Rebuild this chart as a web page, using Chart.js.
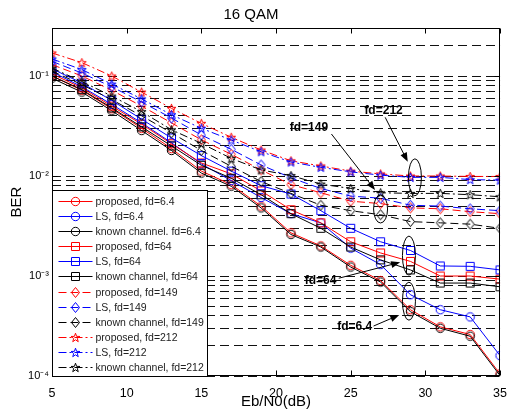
<!DOCTYPE html>
<html>
<head>
<meta charset="utf-8">
<script src="https://cdn.jsdelivr.net/npm/chart.js@4/dist/chart.umd.min.js"></script>
<style>
  html, body { margin: 0; padding: 0; background: #fff; }
</style>
</head>
<body>
<canvas id="ber" width="509" height="411"></canvas>
<script>
// Eb/N0 sample points (dB)
const snr = [5, 7, 9, 11, 13, 15, 17, 19, 21, 23, 25, 27, 29, 31, 33, 35];

// BER
const propFd6 = [0.100, 0.072, 0.047, 0.030, 0.0188, 0.0112, 0.0082, 0.0050, 0.0027, 0.0020, 0.00128, 0.00090, 0.00046, 0.00031, 0.00026, 0.000105];
const lsFd6 = [0.110, 0.078, 0.052, 0.034, 0.0215, 0.0132, 0.0090, 0.0061, 0.0042, 0.0034, 0.0019, 0.0013, 0.00065, 0.00046, 0.00039, 0.00016];
const knownFd6 = [0.095, 0.069, 0.045, 0.0285, 0.0180, 0.0107, 0.0079, 0.0048, 0.0026, 0.00195, 0.00123, 0.00087, 0.00044, 0.00030, 0.00025, 0.000101];
const propFd64 = [0.105, 0.076, 0.050, 0.033, 0.021, 0.0135, 0.0105, 0.0071, 0.0046, 0.0034, 0.0022, 0.0017, 0.0014, 0.0010, 0.0010, 0.00093];
const lsFd64 = [0.118, 0.085, 0.057, 0.037, 0.024, 0.016, 0.0112, 0.0080, 0.0066, 0.0045, 0.0030, 0.0022, 0.0018, 0.00126, 0.00125, 0.00115];
const knownFd64 = [0.100, 0.073, 0.048, 0.031, 0.020, 0.0128, 0.0095, 0.0065, 0.0042, 0.0030, 0.00195, 0.00145, 0.00115, 0.00085, 0.00085, 0.00078];
const propFd149 = [0.130, 0.100, 0.072, 0.050, 0.034, 0.023, 0.0165, 0.0115, 0.0082, 0.0068, 0.0056, 0.0053, 0.0048, 0.0047, 0.0044, 0.0042];
const lsFd149 = [0.140, 0.107, 0.078, 0.055, 0.038, 0.0257, 0.0185, 0.0129, 0.0096, 0.0075, 0.0063, 0.0060, 0.0051, 0.0050, 0.0047, 0.0045];
const knownFd149 = [0.112, 0.082, 0.058, 0.040, 0.027, 0.018, 0.0125, 0.0088, 0.0067, 0.0051, 0.0045, 0.0041, 0.0035, 0.0034, 0.0033, 0.0030];
const propFd212 = [0.170, 0.136, 0.100, 0.069, 0.0475, 0.0336, 0.0244, 0.0182, 0.0142, 0.0126, 0.0112, 0.0105, 0.0100, 0.0100, 0.0099, 0.0099];
const lsFd212 = [0.148, 0.116, 0.083, 0.059, 0.041, 0.030, 0.0229, 0.0175, 0.0138, 0.0122, 0.0110, 0.0102, 0.0097, 0.0097, 0.0092, 0.0091];
const knownFd212 = [0.120, 0.088, 0.063, 0.044, 0.029, 0.0212, 0.0150, 0.0115, 0.0101, 0.0083, 0.0075, 0.0068, 0.0067, 0.0067, 0.0065, 0.0062];

// axis ticks
const xTickValues = [5, 10, 15, 20, 25, 30, 35];
const yDecades = [1e-4, 1e-3, 1e-2, 1e-1];
const yDecadeLabels = ['10\u207B\u2074', '10\u207B\u00B3', '10\u207B\u00B2', '10\u207B\u00B9'];

const FONT = '"Liberation Sans", Arial, Helvetica, sans-serif';
Chart.defaults.font.family = FONT;
Chart.defaults.color = '#000';

// dashed grid at every 1..9 x decade, up to the top of the axis
const yGrid = [];
yDecades.forEach((d) => { for (let m = 1; m <= 9; m++) if (m * d <= 0.3 + 1e-9) yGrid.push(m * d); });

function makeMarker(shape, color) {
  const c = document.createElement('canvas');
  c.width = 13; c.height = 13;
  const g = c.getContext('2d');
  const m = 6.5;
  g.strokeStyle = color;
  g.lineWidth = 1;
  g.beginPath();
  if (shape === 'circle') {
    g.arc(m, m, 4.2, 0, Math.PI * 2);
  } else if (shape === 'square') {
    g.rect(m - 4, m - 4, 8, 8);
  } else if (shape === 'diamond') {
    g.moveTo(m, m - 5); g.lineTo(m + 4, m); g.lineTo(m, m + 5); g.lineTo(m - 4, m); g.closePath();
  } else {
    for (let i = 0; i < 10; i++) {
      const r = i % 2 ? 1.9 : 4.7;
      const a = -Math.PI / 2 + i * Math.PI / 5;
      const px = m + r * Math.cos(a), py = m + 0.4 + r * Math.sin(a);
      if (i) g.lineTo(px, py); else g.moveTo(px, py);
    }
    g.closePath();
  }
  g.stroke();
  return c;
}

const RED = '#ff0000', BLUE = '#0000ff', BLACK = '#000000';
const series = [
  ['proposed, fd=6.4', propFd6, RED, 'circle', []],
  ['LS, fd=6.4', lsFd6, BLUE, 'circle', []],
  ['known channel. fd=6.4', knownFd6, BLACK, 'circle', []],
  ['proposed, fd=64', propFd64, RED, 'square', []],
  ['LS, fd=64', lsFd64, BLUE, 'square', []],
  ['known channel, fd=64', knownFd64, BLACK, 'square', []],
  ['proposed, fd=149', propFd149, RED, 'diamond', [8, 4]],
  ['LS, fd=149', lsFd149, BLUE, 'diamond', [8, 4]],
  ['known channel, fd=149', knownFd149, BLACK, 'diamond', [8, 4]],
  ['proposed, fd=212', propFd212, RED, 'star', [8, 3, 2, 3]],
  ['LS, fd=212', lsFd212, BLUE, 'star', [8, 3, 2, 3]],
  ['known channel, fd=212', knownFd212, BLACK, 'star', [8, 3, 2, 3]]
];

const datasets = series.map(([label, ys, color, shape, dash], i) => ({
  label,
  data: snr.map((x, k) => ({ x, y: ys[k] })),
  borderColor: color,
  backgroundColor: color,
  borderWidth: 1,
  borderDash: dash,
  pointStyle: makeMarker(shape, color),
  pointRadius: 5,
  tension: 0,
  fill: false,
  order: series.length - i
}));

// callouts: text, arrow (from -> to) and ellipse, all in data units
const notes = [
  { text: 'fd=212', at: [27.2, 0.045], from: [27.31, 0.0386], to: [28.82, 0.0139], ell: [29.3, 0.0097], rx: 6.5, ry: 18.5 },
  { text: 'fd=149', at: [22.2, 0.0307], from: [23.71, 0.0263], to: [26.63, 0.00724], ell: [27.0, 0.00468], rx: 7, ry: 14 },
  { text: 'fd=64', at: [22.98, 0.00089], from: [24.2, 0.00095], to: [28.31, 0.00137], ell: [28.9, 0.0016], rx: 6.5, ry: 19.5 },
  { text: 'fd=6.4', at: [25.27, 0.00031], from: [26.53, 0.000316], to: [28.25, 0.000407], ell: [28.9, 0.00056], rx: 6.5, ry: 19 }
];

const frame = {
  id: 'frame',
  afterDatasetsDraw(chart) {
    const { ctx, chartArea: a, scales: { x, y } } = chart;
    const L = Math.round(a.left) + 0.5, R = Math.round(a.right) - 0.5;
    const T = Math.round(a.top) + 0.5, B = Math.round(a.bottom) - 0.5;
    ctx.save();
    ctx.strokeStyle = '#000';
    ctx.lineWidth = 1;
    ctx.setLineDash([]);
    ctx.strokeRect(L, T, R - L, B - T);
    ctx.beginPath();
    xTickValues.forEach((v) => {
      const px = Math.round(x.getPixelForValue(v)) + 0.5;
      ctx.moveTo(px, B); ctx.lineTo(px, B - 5);
      ctx.moveTo(px, T); ctx.lineTo(px, T + 5);
    });
    yDecades.forEach((v) => {
      const py = Math.round(y.getPixelForValue(v)) + 0.5;
      ctx.moveTo(L, py); ctx.lineTo(L + 5, py);
      ctx.moveTo(R, py); ctx.lineTo(R - 5, py);
    });
    ctx.stroke();
    ctx.restore();
  }
};

const callouts = {
  id: 'callouts',
  afterDatasetsDraw(chart) {
    const { ctx, scales: { x, y } } = chart;
    const P = (p) => [x.getPixelForValue(p[0]), y.getPixelForValue(p[1])];
    ctx.save();
    ctx.strokeStyle = '#000';
    ctx.fillStyle = '#000';
    ctx.lineWidth = 1;
    ctx.setLineDash([]);
    notes.forEach((n) => {
      const [ex, ey] = P(n.ell);
      ctx.beginPath();
      ctx.ellipse(ex, ey, n.rx, n.ry, 0, 0, Math.PI * 2);
      ctx.stroke();
      const [x0, y0] = P(n.from), [x1, y1] = P(n.to);
      const ang = Math.atan2(y1 - y0, x1 - x0);
      ctx.beginPath();
      ctx.moveTo(x0, y0);
      ctx.lineTo(x1 - 6 * Math.cos(ang), y1 - 6 * Math.sin(ang));
      ctx.stroke();
      ctx.beginPath();
      ctx.moveTo(x1, y1);
      ctx.lineTo(x1 - 9 * Math.cos(ang) + 3.5 * Math.sin(ang), y1 - 9 * Math.sin(ang) - 3.5 * Math.cos(ang));
      ctx.lineTo(x1 - 9 * Math.cos(ang) - 3.5 * Math.sin(ang), y1 - 9 * Math.sin(ang) + 3.5 * Math.cos(ang));
      ctx.closePath();
      ctx.fill();
      const [tx, ty] = P(n.at);
      ctx.font = 'bold 12px ' + FONT;
      ctx.textAlign = 'center';
      ctx.textBaseline = 'middle';
      ctx.fillText(n.text, tx, ty);
    });
    ctx.restore();
  }
};

const legendBox = {
  id: 'legendBox',
  afterDatasetsDraw(chart) {
    const { ctx, chartArea: a } = chart;
    const rowH = 15.15, w = 155, h = 186;
    const left = Math.round(a.left) + 0.5, top = Math.round(a.bottom) - h + 0.5;
    ctx.save();
    ctx.setLineDash([]);
    ctx.fillStyle = '#fff';
    ctx.fillRect(left, top, w, h);
    ctx.strokeStyle = '#000';
    ctx.lineWidth = 1;
    ctx.strokeRect(left, top, w, h);
    ctx.font = '10.5px ' + FONT;
    ctx.textBaseline = 'middle';
    ctx.textAlign = 'left';
    chart.data.datasets.forEach((ds, i) => {
      const yy = Math.round(top + 10.2 + i * rowH) + 0.5;
      ctx.strokeStyle = ds.borderColor;
      ctx.setLineDash(ds.borderDash);
      ctx.beginPath();
      ctx.moveTo(left + 6, yy);
      ctx.lineTo(left + 40, yy);
      ctx.stroke();
      ctx.setLineDash([]);
      const img = ds.pointStyle;
      ctx.drawImage(img, left + 23 - img.width / 2, yy - img.height / 2);
      ctx.fillStyle = '#222';
      ctx.fillText(ds.label, left + 43, yy + 0.5);
    });
    ctx.restore();
  }
};

new Chart(document.getElementById('ber'), {
  type: 'line',
  data: { datasets },
  plugins: [frame, callouts, legendBox],
  options: {
    responsive: false,
    animation: false,
    devicePixelRatio: 1,
    layout: { padding: { left: 0, right: 7, top: 0, bottom: 0 } },
    plugins: {
      legend: { display: false },
      tooltip: { enabled: false },
      title: {
        display: true,
        text: '16 QAM',
        color: '#000',
        font: { size: 15, weight: 'normal' },
        padding: { top: 6, bottom: 4.3 }
      }
    },
    scales: {
      x: {
        type: 'linear',
        min: 5,
        max: 35,
        afterBuildTicks: (s) => { s.ticks = xTickValues.map((v) => ({ value: v })); },
        afterFit: (s) => { s.height = 35; },
        grid: { display: false },
        border: { display: false },
        ticks: { color: '#000', font: { size: 12.5 }, padding: 2, maxRotation: 0, autoSkip: false },
        title: { display: true, text: 'Eb/N0(dB)', color: '#000', font: { size: 15 }, padding: { top: 0, bottom: 0 } }
      },
      y: {
        type: 'logarithmic',
        min: 1e-4,
        max: 0.3,
        afterBuildTicks: (s) => { s.ticks = yGrid.map((v) => ({ value: v })); },
        afterFit: (s) => { s.width = 52; },
        ticks: {
          autoSkip: false,
          color: '#000',
          font: { size: 11 },
          padding: 3,
          callback: (v) => {
            const i = yDecades.findIndex((d) => Math.abs(d - v) / d < 1e-6);
            return i >= 0 ? yDecadeLabels[i] : '';
          }
        },
        grid: { color: '#111', lineWidth: 1, drawTicks: false },
        border: { display: false, dash: [9, 5] },
        title: { display: true, text: 'BER', color: '#000', font: { size: 15 }, padding: { top: 8, bottom: 0 } }
      }
    }
  }
});
</script>
</body>
</html>
